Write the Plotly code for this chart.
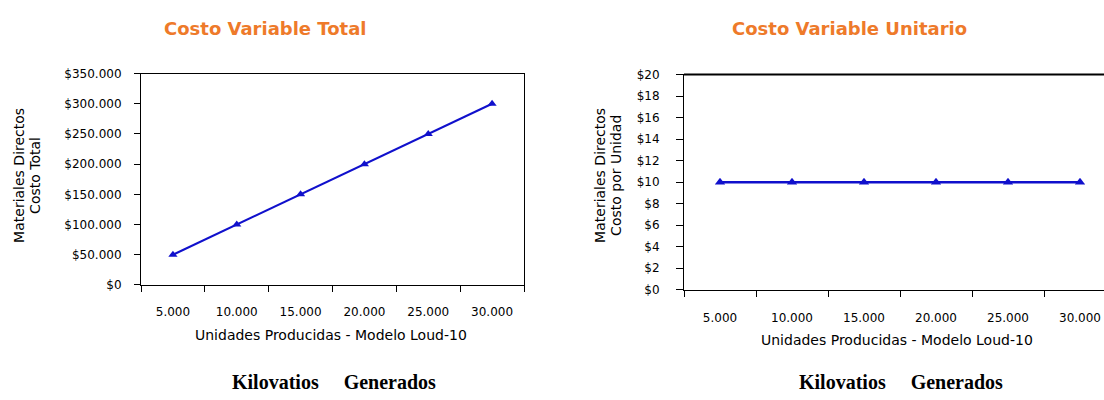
import plotly.graph_objects as go

# Production levels (units) and direct material costs
unidades = ["5.000", "10.000", "15.000", "20.000", "25.000", "30.000"]
costo_total = [50000, 100000, 150000, 200000, 250000, 300000]
costo_unitario = [10, 10, 10, 10, 10, 10]

W, H = 1104, 400
LINE_COLOR = "#1010CC"
TITLE_COLOR = "#EE7A2A"
TXT_FONT = "DejaVu Sans"

fig = go.Figure()

fig.add_trace(go.Scatter(
    x=unidades, y=costo_total, xaxis="x", yaxis="y",
    mode="lines+markers",
    line=dict(color=LINE_COLOR, width=2),
    marker=dict(symbol="triangle-up", size=8, color=LINE_COLOR),
    showlegend=False, hoverinfo="x+y",
))
fig.add_trace(go.Scatter(
    x=unidades, y=costo_unitario, xaxis="x2", yaxis="y2",
    mode="lines+markers",
    line=dict(color=LINE_COLOR, width=2.5),
    marker=dict(symbol="triangle-up", size=9, color=LINE_COLOR),
    showlegend=False, hoverinfo="x+y",
))

tick_font = dict(family=TXT_FONT, size=12, color="#000000")

def px_x(p):
    return p / W

def px_y(p):
    return 1 - p / H

common_x = dict(
    type="category", showgrid=False, zeroline=False,
    showline=True, linecolor="#000000", linewidth=1,
    ticks="outside", tickcolor="#000000", tickson="boundaries",
    tickfont=tick_font, mirror=True, fixedrange=True,
)
common_y = dict(
    showgrid=False, zeroline=False,
    showline=True, linecolor="#000000", linewidth=1,
    ticks="outside", tickcolor="#000000",
    tickfont=tick_font, tickprefix="$", tickformat=",d", fixedrange=True,
)

fig.update_layout(
    width=W, height=H,
    margin=dict(l=0, r=0, t=0, b=0),
    paper_bgcolor="#FFFFFF", plot_bgcolor="#FFFFFF",
    separators=",.",
    xaxis=dict(common_x, domain=[px_x(141), px_x(524)], anchor="y",
               range=[-0.5, 5.5], ticklen=6, ticklabelstandoff=16),
    yaxis=dict(common_y, domain=[px_y(288), px_y(69)], anchor="x",
               range=[0, 350000], dtick=50000, mirror=True,
               ticklen=6, ticklabelstandoff=10),
    xaxis2=dict(common_x, domain=[px_x(684), 1.0], anchor="y2",
                range=[-0.5, -0.5 + (W - 684) / 72.0],
                ticklen=6, ticklabelstandoff=17),
    yaxis2=dict(common_y, domain=[px_y(293), px_y(70)], anchor="x2",
                range=[0, 20], dtick=2, mirror=False,
                ticklen=7, ticklabelstandoff=14),
)

axis_font = dict(family=TXT_FONT, size=14, color="#000000")
annotations = [
    # chart titles
    dict(text="<b>Costo Variable Total</b>", x=px_x(265), y=px_y(22),
         font=dict(family=TXT_FONT, size=18, color=TITLE_COLOR)),
    dict(text="<b>Costo Variable Unitario</b>", x=px_x(849), y=px_y(22),
         font=dict(family=TXT_FONT, size=18, color=TITLE_COLOR)),
    # y-axis titles (two stacked rotated lines each)
    dict(text="Materiales Directos", x=px_x(19), y=px_y(175),
         textangle=-90, font=axis_font),
    dict(text="Costo Total", x=px_x(35), y=px_y(175),
         textangle=-90, font=axis_font),
    dict(text="Materiales Directos", x=px_x(600), y=px_y(175),
         textangle=-90, font=axis_font),
    dict(text="Costo por Unidad", x=px_x(616), y=px_y(175),
         textangle=-90, font=axis_font),
    # x-axis titles
    dict(text="Unidades Producidas - Modelo Loud-10", x=px_x(331), y=px_y(340),
         font=dict(family=TXT_FONT, size=14, color="#000000")),
    dict(text="Unidades Producidas - Modelo Loud-10", x=px_x(897), y=px_y(345),
         font=dict(family=TXT_FONT, size=14, color="#000000")),
    # captions below each chart
    dict(text="<b>Kilovatios&nbsp;&nbsp;&nbsp;&nbsp;&nbsp;Generados</b>", x=px_x(334), y=px_y(389),
         font=dict(family="Liberation Serif", size=20, color="#000000")),
    dict(text="<b>Kilovatios&nbsp;&nbsp;&nbsp;&nbsp;&nbsp;Generados</b>", x=px_x(901), y=px_y(389),
         font=dict(family="Liberation Serif", size=20, color="#000000")),
]
for a in annotations:
    a.update(xref="paper", yref="paper", showarrow=False,
             xanchor="center", yanchor="middle")
fig.update_layout(annotations=annotations)

# heavier top border on the unit-cost chart
fig.add_shape(type="line", xref="paper", yref="paper",
              x0=px_x(684), x1=1.0, y0=px_y(70), y1=px_y(70),
              line=dict(color="#000000", width=2))

fig.write_html("out.html")
